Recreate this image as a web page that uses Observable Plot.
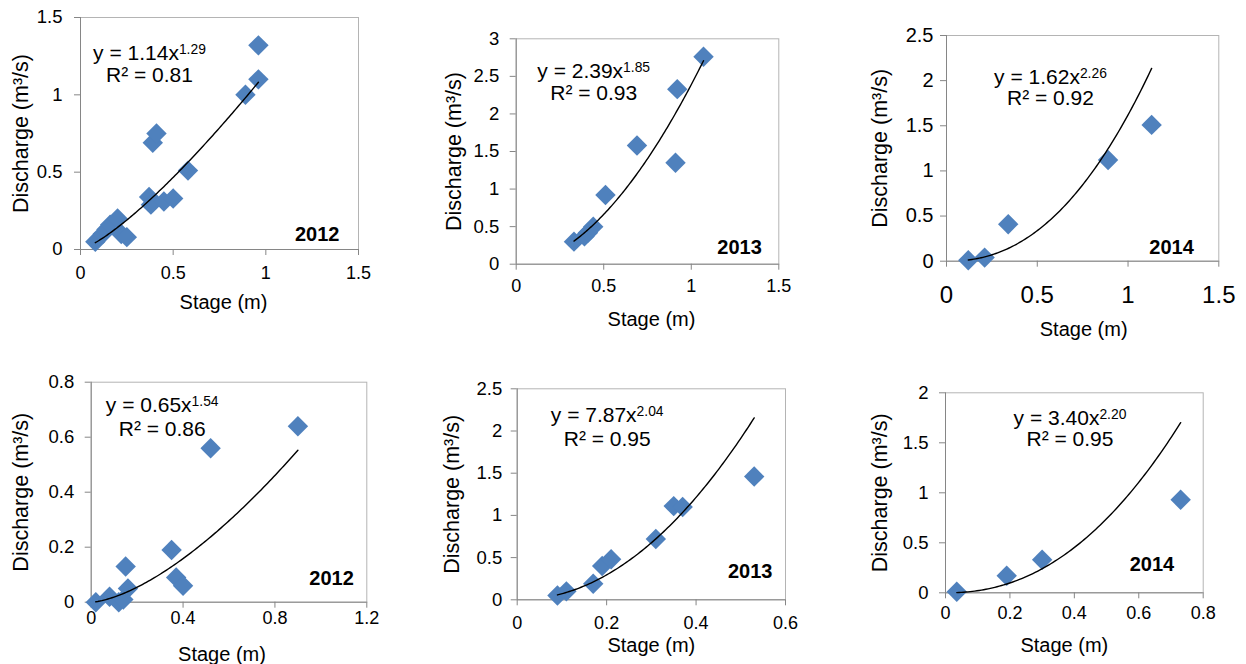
<!DOCTYPE html>
<html>
<head>
<meta charset="utf-8">
<script src="https://cdn.jsdelivr.net/npm/d3@7"></script>
<script src="https://cdn.jsdelivr.net/npm/@observablehq/plot@0.6"></script>
<style>
  body { margin: 0; background: #fff; }
  #chart { position: relative; width: 1246px; height: 664px; background: #fff; }
  #chart .cell { position: absolute; }
</style>
</head>
<body>
<div id="chart"></div>
<script>
// ---- Stage–discharge measurements (stage in m, discharge in m³/s) ----
// Upper row
const stageUpper2012     = [0.08, 0.12, 0.14, 0.16, 0.20, 0.22, 0.25, 0.37, 0.38, 0.45, 0.50, 0.39, 0.41, 0.58, 0.89, 0.96, 0.96];
const dischargeUpper2012 = [0.05, 0.10, 0.13, 0.16, 0.20, 0.10, 0.08, 0.34, 0.29, 0.31, 0.33, 0.69, 0.75, 0.51, 1.00, 1.32, 1.10];
const stageUpper2013     = [0.33, 0.39, 0.41, 0.44, 0.51, 0.69, 0.91, 0.92, 1.07];
const dischargeUpper2013 = [0.30, 0.37, 0.42, 0.50, 0.92, 1.58, 1.35, 2.33, 2.76];
const stageUpper2014     = [0.12, 0.21, 0.34, 0.89, 1.13];
const dischargeUpper2014 = [0.01, 0.04, 0.41, 1.12, 1.51];
// Lower row
const stageLower2012     = [0.02, 0.08, 0.12, 0.14, 0.16, 0.15, 0.35, 0.37, 0.40, 0.52, 0.90];
const dischargeLower2012 = [0.00, 0.02, 0.00, 0.01, 0.05, 0.13, 0.19, 0.09, 0.06, 0.56, 0.64];
const stageLower2013     = [0.09, 0.11, 0.17, 0.19, 0.21, 0.31, 0.35, 0.37, 0.53];
const dischargeLower2013 = [0.05, 0.10, 0.19, 0.40, 0.48, 0.72, 1.11, 1.10, 1.46];
const stageLower2014     = [0.035, 0.19, 0.30, 0.73];
const dischargeLower2014 = [0.01, 0.17, 0.33, 0.93];

// Power-law rating curves Q = a·H^b and their R²
const coefA = [1.14, 2.39, 1.62, 0.65, 7.87, 3.40];
const coefB = [1.29, 1.85, 2.26, 1.54, 2.04, 2.20];
const rSquared = [0.81, 0.93, 0.92, 0.86, 0.95, 0.95];
const years = ["2012", "2013", "2014", "2012", "2013", "2014"];

// Axis tick values
const xTicks = [
  [0, 0.5, 1, 1.5], [0, 0.5, 1, 1.5], [0, 0.5, 1, 1.5],
  [0, 0.4, 0.8, 1.2], [0, 0.2, 0.4, 0.6], [0, 0.2, 0.4, 0.6, 0.8]
];
const yTicks = [
  [0, 0.5, 1, 1.5], [0, 0.5, 1, 1.5, 2, 2.5, 3], [0, 0.5, 1, 1.5, 2, 2.5],
  [0, 0.2, 0.4, 0.6, 0.8], [0, 0.5, 1, 1.5, 2, 2.5], [0, 0.5, 1, 1.5, 2]
];
const stages = [stageUpper2012, stageUpper2013, stageUpper2014, stageLower2012, stageLower2013, stageLower2014];
const discharges = [dischargeUpper2012, dischargeUpper2013, dischargeUpper2014, dischargeLower2012, dischargeLower2013, dischargeLower2014];

const xTitle = "Stage (m)";
const yTitle = "Discharge (m³/s)";

// ---- Layout of the six panels ----
// cell: [left, top, width, height]; m: margins [top, right, bottom, left]
// eq: [dx of block centre, baseline of line 1, baseline of line 2] from the frame's top-left
const layout = [
  {cell: [0, 0, 415, 332],   m: [17, 57, 83, 80],      eq: [69, 42, 64],   yr: [-19, -9],  xt: [4, 53],  yt: -59, xf: 18, yf: 18.5, xp: 11, yp: 12},
  {cell: [415, 0, 415, 332], m: [38.3, 51.7, 68.3, 100.7], eq: [77.5, 39, 61], yr: [-17, -10], xt: [4, 55], yt: -62, xf: 18, yf: 18.5, xp: 9, yp: 11},
  {cell: [830, 0, 416, 332], m: [35, 27.7, 71.3, 116],  eq: [104, 48, 69],  yr: [-25, -7],  xt: [1, 68], yt: -66, xf: 24, yf: 20, xp: 19, yp: 7},
  {cell: [0, 332, 415, 332], m: [49.7, 48.7, 62.3, 90.7], eq: [71, 30, 54],  yr: [-13, -17], xt: [-7, 52], yt: -70, xf: 18, yf: 18.5, xp: 3, yp: 11},
  {cell: [415, 332, 415, 332], m: [56.3, 45, 64.7, 101.7], eq: [90, 33, 57], yr: [-13, -22], xt: [0, 46], yt: -65, xf: 18, yf: 18.5, xp: 10, yp: 9},
  {cell: [830, 332, 416, 332], m: [60.3, 43.3, 71.7, 115], eq: [124.5, 32, 53], yr: [-29, -22], xt: [-10, 53], yt: -65, xf: 18, yf: 18.5, xp: 7, yp: 11}
];

const FONT = '"Liberation Sans", Arial, Helvetica, sans-serif';
const BLUE = "#4F81BD";
const AXIS = "#868686";
const BORDER = "#b4b4b4";
const fmt = d3.format("~g");

const chart = document.getElementById("chart");

layout.forEach((L, i) => {
  const pts = stages[i].map((s, j) => ({stage: s, discharge: discharges[i][j]}));
  const [x0, x1] = d3.extent(stages[i]);
  const a = coefA[i], b = coefB[i];
  // rating curve drawn across the measured stage range
  const curve = d3.range(101).map(k => {
    const s = x0 + (x1 - x0) * k / 100;
    return {stage: s, discharge: a * Math.pow(s, b)};
  });
  const info = {a, b, r2: rSquared[i], year: years[i]};
  const [mt, mr, mb, ml] = L.m;

  const svg = Plot.plot({
    width: L.cell[2],
    height: L.cell[3],
    marginTop: mt, marginRight: mr, marginBottom: mb, marginLeft: ml,
    style: {fontFamily: FONT, background: "transparent", overflow: "visible", color: "black"},
    x: {domain: [0, xTicks[i].at(-1)], axis: null},
    y: {domain: [0, yTicks[i].at(-1)], axis: null},
    marks: [
      Plot.frame({stroke: BORDER}),
      Plot.axisX({ticks: xTicks[i], tickFormat: fmt, tickSize: 6, tickPadding: L.xp, fontSize: L.xf, stroke: AXIS, color: "black", label: null}),
      Plot.axisY({ticks: yTicks[i], tickFormat: fmt, tickSize: 6, tickPadding: L.yp, fontSize: L.yf, stroke: AXIS, color: "black", label: null}),
      Plot.ruleX([0], {stroke: AXIS}),
      Plot.ruleY([0], {stroke: AXIS}),
      Plot.dot(pts, {x: "stage", y: "discharge", symbol: "diamond2", r: 9.2, fill: BLUE, stroke: "none"}),
      Plot.line(curve, {x: "stage", y: "discharge", stroke: "black", strokeWidth: 1.4}),
      Plot.text([info], {
        text: d => `y = ${d.a.toFixed(2)}x^${d.b.toFixed(2)}`,
        frameAnchor: "top-left", dx: L.eq[0], dy: L.eq[1],
        textAnchor: "middle", lineAnchor: "bottom", fontSize: 21, className: "eq"
      }),
      Plot.text([info], {
        text: d => `R² = ${d.r2.toFixed(2)}`,
        frameAnchor: "top-left", dx: L.eq[0], dy: L.eq[2],
        textAnchor: "middle", lineAnchor: "bottom", fontSize: 21
      }),
      Plot.text([info], {
        text: d => d.year,
        frameAnchor: "bottom-right", dx: L.yr[0], dy: L.yr[1],
        textAnchor: "end", lineAnchor: "bottom", fontSize: 20, fontWeight: "bold"
      }),
      Plot.text([xTitle], {
        text: d => d, frameAnchor: "bottom", dx: L.xt[0], dy: L.xt[1],
        lineAnchor: "middle", fontSize: 20
      }),
      Plot.text([yTitle], {
        text: d => d, frameAnchor: "left", dx: L.yt, rotate: -90,
        textAnchor: "middle", lineAnchor: "middle", fontSize: 21.5
      })
    ]
  });

  // exponent of the equation set as a superscript
  d3.select(svg).selectAll("text").each(function () {
    const t = this.textContent;
    if (t.startsWith("y = ") && t.includes("^")) {
      const [base, exp] = t.split("^");
      const sel = d3.select(this);
      sel.text(base);
      sel.append("tspan").attr("dy", "-0.42em").attr("font-size", "0.66em").text(exp);
    }
  });

  const box = document.createElement("div");
  box.className = "cell";
  box.style.left = L.cell[0] + "px";
  box.style.top = L.cell[1] + "px";
  box.appendChild(svg);
  chart.appendChild(box);
});
</script>
</body>
</html>
